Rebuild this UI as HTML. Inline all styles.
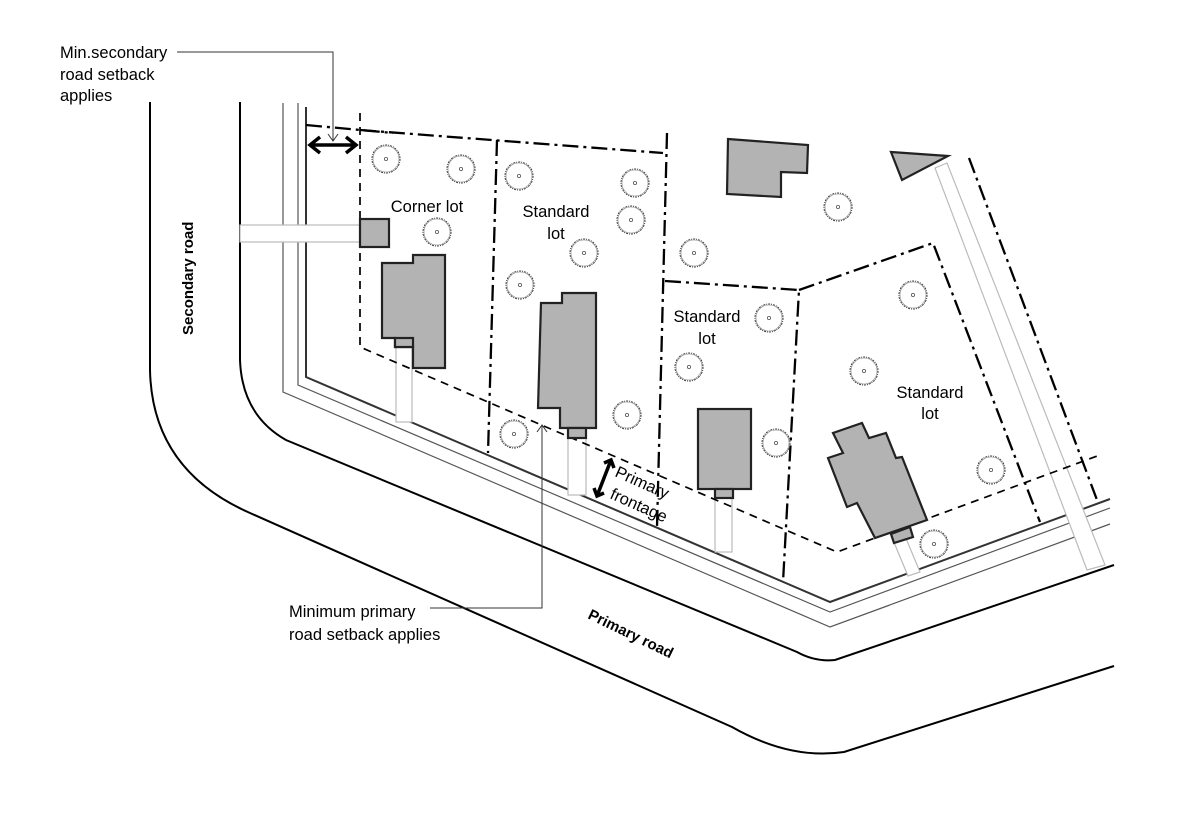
<!DOCTYPE html>
<html><head><meta charset="utf-8"><style>
html,body{margin:0;padding:0;background:#fff;}
svg{display:block;}
text{font-family:"Liberation Sans",sans-serif;fill:#000;}
</style></head><body>
<svg width="1181" height="833" viewBox="0 0 1181 833" xmlns="http://www.w3.org/2000/svg">
<defs>
<g id="tree"><circle r="14" fill="none" stroke="#444" stroke-width="1.1" stroke-dasharray="2 1 1 1"/><circle r="13" fill="none" stroke="#888" stroke-width="0.6"/><circle r="1.6" fill="none" stroke="#555" stroke-width="0.8"/></g>
</defs>
<!-- roads -->
<path d="M150,102 L150,370 Q152,470 250,513 L732,727 Q790,760 844,752 L1114,666" fill="none" stroke="#000" stroke-width="2"/>
<path d="M240,102 L240,360 Q242,415 286,440 L797,652 Q815,662 835,660 L1114,565" fill="none" stroke="#000" stroke-width="2"/>
<!-- property lines -->
<path d="M283,103 L283,392 L830,627 L1110,524" fill="none" stroke="#555" stroke-width="1.2"/>
<path d="M298,103 L298,385 L830,612 L1110,508" fill="none" stroke="#555" stroke-width="1.2"/>
<path d="M306,107 L306,377 L830,602 L1110,499" fill="none" stroke="#333" stroke-width="2"/>
<!-- driveways -->
<g fill="#fff" stroke="#bbb" stroke-width="1.2">
<rect x="240" y="225" width="120" height="17"/>
<rect x="396" y="347" width="16" height="75"/>
<rect x="568" y="438" width="18" height="57"/>
<rect x="715" y="498" width="17" height="54"/>
<polygon points="935,168 947,163 1105,565 1087,570"/>
<polygon points="893,540 905,536 920,572 908,576"/>
</g>
<!-- lot boundaries dash-dot -->
<g fill="none" stroke="#000" stroke-width="2.3" stroke-dasharray="16 5 3 5">
<path d="M306,125 L393,133"/>
<path d="M360,130 L663,153"/>
<path d="M497,140 L488,453"/>
<path d="M667,133 L657,527"/>
<path d="M665,281 L799,290 L783,582"/>
<path d="M799,290 L933,243 L1040,522"/>
<path d="M969,158 L1097,500"/>
</g>
<!-- setback dashed -->
<g fill="none" stroke="#000" stroke-width="1.7" stroke-dasharray="8 6">
<path d="M360,113 L360,347 L837,552 L1100,455"/>
</g>
<!-- buildings -->
<g fill="#b3b3b3" stroke="#222" stroke-width="2.2">
<polygon points="728,139 808,145 807,173 781,172 781,197 727,194"/>
<polygon points="891,152 948,156 902,180"/>
<rect x="360" y="219" width="29" height="28"/>
<polygon points="382,263 413,263 413,255 445,255 445,368 413,368 413,347 395,347 395,338 382,338"/>
<rect x="395" y="338" width="18" height="9"/>
<polygon points="541,303 562,303 562,293 596,293 596,428 560,428 560,408 538,408"/>
<rect x="568" y="428" width="18" height="10"/>
<rect x="698" y="409" width="53" height="80"/>
<rect x="715" y="489" width="18" height="9"/>
<polygon points="828,458 843,453 833,433 862,423 869,438 886,433 896,458 902,457 927,520 875,538 857,503 847,507"/>
<polygon points="891,534 910,527 913,537 894,543"/>
</g>
<!-- trees -->
<g>
<use href="#tree" x="386" y="159"/><use href="#tree" x="461" y="169"/><use href="#tree" x="437" y="232"/>
<use href="#tree" x="519" y="176"/><use href="#tree" x="635" y="183"/><use href="#tree" x="631" y="220"/>
<use href="#tree" x="584" y="253"/><use href="#tree" x="520" y="285"/><use href="#tree" x="627" y="415"/>
<use href="#tree" x="514" y="434"/><use href="#tree" x="838" y="207"/><use href="#tree" x="694" y="253"/>
<use href="#tree" x="769" y="318"/><use href="#tree" x="689" y="367"/><use href="#tree" x="913" y="295"/>
<use href="#tree" x="864" y="371"/><use href="#tree" x="776" y="443"/><use href="#tree" x="991" y="470"/>
<use href="#tree" x="934" y="544"/>
</g>
<!-- leaders -->
<g fill="none" stroke="#333" stroke-width="1">
<path d="M177,52 L333,52 L333,141"/>
<path d="M328,134 L333,141 L338,134"/>
<path d="M430,608 L542,608 L542,425"/>
<path d="M537,432 L542,425 L547,432"/>
</g>
<!-- bold double arrows -->
<g fill="none" stroke="#000" stroke-width="3.5">
<path d="M310,145 L356,145"/>
<path d="M320,137 L310,145 L320,153"/>
<path d="M346,137 L356,145 L346,153"/>
<path d="M611,460 L597,496"/>
<path d="M604,463 L611,460 L614,468"/>
<path d="M594,488 L597,496 L604,493"/>
</g>
<!-- labels -->
<g font-size="16.5">
<text x="60" y="58">Min.secondary</text>
<text x="60" y="80">road setback</text>
<text x="60" y="101">applies</text>
<text x="427" y="212" text-anchor="middle">Corner lot</text>
<text x="556" y="217" text-anchor="middle">Standard</text>
<text x="556" y="239" text-anchor="middle">lot</text>
<text x="707" y="322" text-anchor="middle">Standard</text>
<text x="707" y="344" text-anchor="middle">lot</text>
<text x="930" y="398" text-anchor="middle">Standard</text>
<text x="930" y="419" text-anchor="middle">lot</text>
<text x="289" y="617">Minimum primary</text>
<text x="289" y="640">road setback applies</text>
<text transform="translate(614,476) rotate(24)">Primary</text>
<text transform="translate(609,498) rotate(24)">frontage</text>
</g>
<text transform="translate(193,335) rotate(-90)" font-size="15" font-weight="bold">Secondary road</text>
<text transform="translate(587,618) rotate(26)" font-size="15" font-weight="bold">Primary road</text>
</svg>
</body></html>
